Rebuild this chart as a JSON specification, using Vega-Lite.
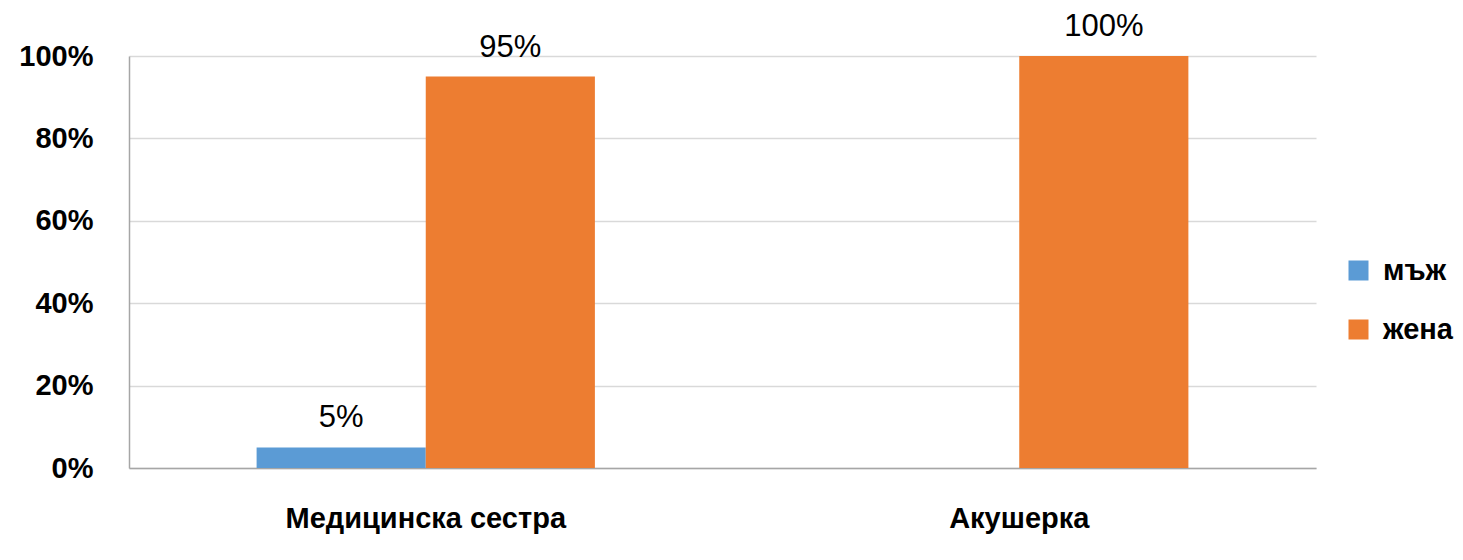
{
  "$schema": "https://vega.github.io/schema/vega-lite/v6.json",
  "width": 1187,
  "height": 412,
  "padding": {"left": 18, "top": 11, "right": 10, "bottom": 10},
  "background": "white",
  "data": {"values": [
    {"category": "Медицинска сестра", "sex": "мъж", "value": 0.05},
    {"category": "Медицинска сестра", "sex": "жена", "value": 0.95},
    {"category": "Акушерка", "sex": "мъж", "value": 0.0},
    {"category": "Акушерка", "sex": "жена", "value": 1.0}
  ]},
  "encoding": {
    "x": {"field": "category", "type": "nominal", "sort": ["Медицинска сестра", "Акушерка"],
      "scale": {"paddingInner": 0.43, "paddingOuter": 0.215},
      "axis": {"title": null, "labelAngle": 0, "labelLimit": 0, "labelFont": "Liberation Sans", "labelFontWeight": "bold", "labelFontSize": 29, "labelColor": "black", "labelPadding": 36, "ticks": false, "domainColor": "#a6a6a6", "domainWidth": 1.5}},
    "xOffset": {"field": "sex", "type": "nominal", "sort": ["мъж", "жена"]},
    "y": {"field": "value", "type": "quantitative",
      "scale": {"domain": [0, 1]},
      "axis": {"title": null, "format": ".0%", "values": [0, 0.2, 0.4, 0.6, 0.8, 1], "labelFont": "Liberation Sans", "labelFontWeight": "bold", "labelFontSize": 29, "labelColor": "black", "labelPadding": 36, "ticks": false, "domainColor": "#a6a6a6", "domainWidth": 1.5, "gridColor": "#d9d9d9", "gridWidth": 1.5}}
  },
  "layer": [
    {
      "mark": {"type": "bar"},
      "encoding": {
        "color": {"field": "sex", "type": "nominal", "sort": ["мъж", "жена"],
          "scale": {"domain": ["мъж", "жена"], "range": ["#5B9BD5", "#ED7D31"]},
          "legend": {"title": null, "orient": "none", "legendX": 1215, "legendY": 200, "symbolType": "square", "symbolSize": 400, "symbolStrokeWidth": 0, "labelFont": "Liberation Sans", "labelFontWeight": "bold", "labelFontSize": 29, "labelColor": "black", "rowPadding": 29, "labelOffset": 10}}
      }
    },
    {
      "transform": [{"filter": "datum.value > 0"}],
      "mark": {"type": "text", "baseline": "alphabetic", "dy": -20, "font": "Liberation Sans", "fontSize": 31, "color": "black"},
      "encoding": {
        "text": {"field": "value", "type": "quantitative", "format": ".0%"}
      }
    }
  ],
  "config": {"view": {"stroke": null}}
}
